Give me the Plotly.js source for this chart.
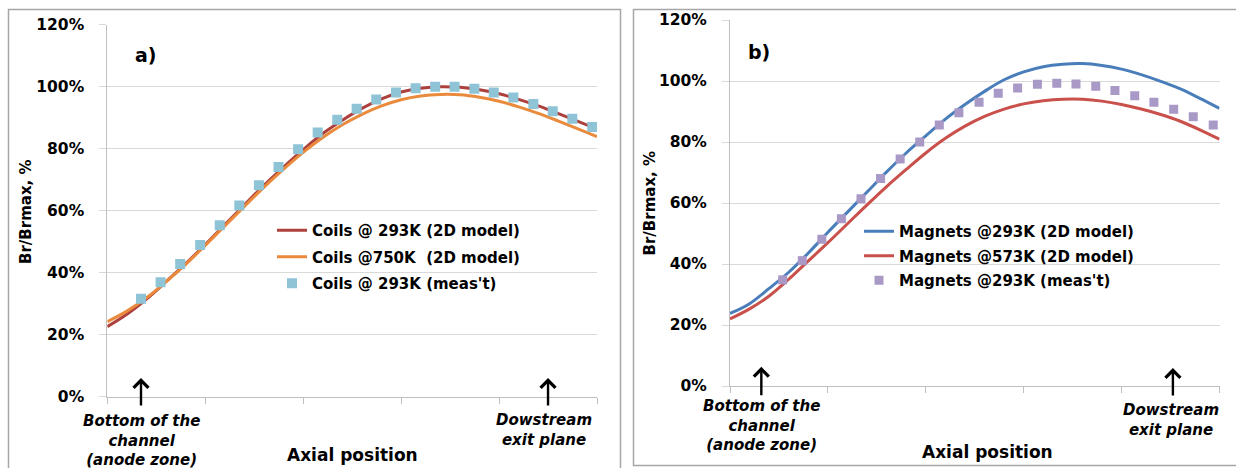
<!DOCTYPE html>
<html><head><meta charset="utf-8">
<script src="https://cdn.plot.ly/plotly-3.0.1.min.js"></script>
<style>html,body{margin:0;padding:0;background:#fff}#chart{width:1236px;height:468px}</style>
</head><body><div id="chart"></div>
<script>
// ---------- data (axial position in arbitrary units 0..25, values in %) ----------
const xModel = [0,1,2,3,4,5,6,7,8,9,10,11,12,13,14,15,16,17,18,19,20,21,22,23,24,25];

// panel a) coils
const coils293Model = [22.6,26.6,31.5,37.1,42.9,49.1,55.5,61.9,68.2,74.1,79.7,84.9,89.2,93.0,96.1,98.3,99.5,100.0,99.8,99.0,97.7,95.9,93.8,91.4,88.9,86.3];
const coils750Model = [24.2,27.6,31.9,37.1,42.7,48.8,55.1,61.4,67.6,73.4,78.8,83.6,87.7,91.1,93.8,95.8,97.0,97.5,97.4,96.6,95.3,93.5,91.4,89.0,86.5,83.9];
const xCoilsMeas = [1.72,2.72,3.72,4.74,5.74,6.74,7.74,8.74,9.74,10.74,11.74,12.73,13.73,14.74,15.74,16.74,17.73,18.74,19.73,20.73,21.75,22.74,23.74,24.76];
const coilsMeas = [31.6,36.9,42.8,48.9,55.3,61.7,68.2,74.1,79.8,85.2,89.3,92.9,95.9,98.1,99.5,100.0,100.0,99.3,98.1,96.5,94.4,92.1,89.7,87.0];

// panel b) magnets
const magnets293Model = [23.8,27.0,32.0,37.3,43.6,50.4,57.0,63.6,70.2,76.4,82.0,87.5,92.3,96.6,100.4,103.0,104.7,105.5,105.7,105.1,103.9,102.1,99.9,97.4,94.3,91.0];
const magnets573Model = [22.0,25.3,29.5,35.0,41.0,47.0,53.2,59.4,65.4,71.0,76.4,81.2,85.2,88.4,90.8,92.5,93.5,94.0,94.0,93.4,92.3,90.8,89.0,86.8,84.0,80.9];
const xMagnetsMeas = [2.69,3.69,4.69,5.69,6.69,7.69,8.69,9.69,10.69,11.69,12.72,13.70,14.69,15.70,16.69,17.67,18.68,19.66,20.67,21.65,22.66,23.66,24.68];
const magnetsMeas = [34.8,41.1,48.1,54.8,61.4,68.0,74.4,80.0,85.6,89.6,93.0,96.0,97.7,98.9,99.3,99.0,98.3,96.9,95.2,93.0,90.7,88.3,85.6];

const yTicks = [0,20,40,60,80,100,120];

// ---------- layout helpers ----------
const W = 1236, H = 468;
const px = x => x / W;
const py = y => 1 - y / H;
const FONT = 'DejaVu Sans';
const bold = (size, extra) => Object.assign({family: FONT, size: size, color: '#000', weight: 'bold'}, extra || {});

const traces = [
  {x: xModel, y: coils293Model, type: 'scatter', mode: 'lines', name: 'Coils @ 293K (2D model)',
   line: {color: '#ad403c', width: 3, shape: 'spline'}, xaxis: 'x', yaxis: 'y', legend: 'legend', legendgroup: 'a1'},
  {x: xModel, y: coils750Model, type: 'scatter', mode: 'lines', name: 'Coils @750K  (2D model)',
   line: {color: '#ea8a3c', width: 3, shape: 'spline'}, xaxis: 'x', yaxis: 'y', legend: 'legend', legendgroup: 'a2'},
  {x: xCoilsMeas, y: coilsMeas, type: 'scatter', mode: 'markers', name: "Coils @ 293K (meas't)",
   marker: {symbol: 'square', color: '#8fc3d6', size: 10}, xaxis: 'x', yaxis: 'y', legend: 'legend', legendgroup: 'a3'},
  {x: xModel, y: magnets293Model, type: 'scatter', mode: 'lines', name: 'Magnets @293K (2D model)',
   line: {color: '#4a7ebb', width: 3, shape: 'spline'}, xaxis: 'x2', yaxis: 'y2', legend: 'legend2', legendgroup: 'b1'},
  {x: xModel, y: magnets573Model, type: 'scatter', mode: 'lines', name: 'Magnets @573K (2D model)',
   line: {color: '#c9504b', width: 3, shape: 'spline'}, xaxis: 'x2', yaxis: 'y2', legend: 'legend2', legendgroup: 'b2'},
  {x: xMagnetsMeas, y: magnetsMeas, type: 'scatter', mode: 'markers', name: "Magnets @293K (meas't)",
   marker: {symbol: 'square', color: '#a899c7', size: 9}, xaxis: 'x2', yaxis: 'y2', legend: 'legend2', legendgroup: 'b3'}
];

const xAxisBase = (dom, anchor) => ({
  domain: dom, anchor: anchor, range: [0, 25], tick0: 0, dtick: 5,
  showticklabels: false, ticks: 'outside', ticklen: 6, tickcolor: '#bfbfbf', tickwidth: 1,
  showline: true, linecolor: '#bfbfbf', linewidth: 1, showgrid: false, zeroline: false, fixedrange: true
});
const yAxisBase = (dom, anchor) => ({
  domain: dom, anchor: anchor, range: [0, 120], tickmode: 'array', tickvals: yTicks,
  ticktext: yTicks.map(v => v + '%'),
  showgrid: true, gridcolor: '#d9d9d9', gridwidth: 1,
  showline: true, linecolor: '#bfbfbf', linewidth: 1,
  ticks: 'outside', ticklen: 7, tickcolor: '#d9d9d9', tickwidth: 1,
  zeroline: false, tickfont: bold(15.5), ticklabelstandoff: 12, fixedrange: true
});

const legendBase = (x, y, gap) => ({
  x: x, y: y, xanchor: 'left', yanchor: 'top', bgcolor: 'rgba(0,0,0,0)', borderwidth: 0,
  font: bold(15), traceorder: 'grouped', tracegroupgap: gap, itemclick: false, itemdoubleclick: false
});

const ann = [];
const txt = (text, x, y, font, extra) => ann.push(Object.assign({
  text: text, x: px(x), y: py(y), xref: 'paper', yref: 'paper', xanchor: 'center', yanchor: 'middle',
  showarrow: false, font: font
}, extra || {}));
const arrow = (xr, yr, x, y, len) => ann.push({
  text: '', xref: xr, yref: yr, x: x, y: y, ax: 0, ay: len, showarrow: true,
  arrowhead: 4, arrowsize: 1.2, arrowwidth: 2.4, arrowcolor: '#000'
});

// panel labels
txt('a)', 146, 55, bold(19));
txt('b)', 759, 52, bold(19));
// y-axis titles
txt('Br/Brmax, %', 26, 212, bold(15), {textangle: -90});
txt('Br/Brmax, %', 649.5, 203, bold(15), {textangle: -90});
// x-axis titles
txt('Axial position', 352, 455, bold(17));
txt('Axial position', 987, 452, bold(17));
// position notes
const it = bold(15, {style: 'italic'});
txt('Bottom of the<br>channel<br>(anode zone)', 141.5, 440, it);
txt('Dowstream<br>exit plane', 543.5, 430, it);
txt('Bottom of the<br>channel<br>(anode zone)', 761, 425, it);
txt('Dowstream<br>exit plane', 1170.5, 419.5, it);
// arrows
arrow('x', 'y', 1.72, 6.0, 29);
arrow('x', 'y', 22.5, 6.0, 29);
arrow('x2', 'y2', 1.60, 6.3, 30);
arrow('x2', 'y2', 22.62, 5.9, 29);

const layout = {
  width: W, height: H, autosize: false,
  margin: {l: 0, r: 0, t: 0, b: 0, pad: 0},
  paper_bgcolor: '#fff', plot_bgcolor: 'rgba(0,0,0,0)',
  font: {family: FONT, color: '#000'},
  showlegend: true,
  xaxis: xAxisBase([px(107.3), px(597)], 'y'),
  yaxis: yAxisBase([py(396.7), py(24.7)], 'x'),
  xaxis2: xAxisBase([px(730), px(1219.5)], 'y2'),
  yaxis2: yAxisBase([py(386), py(20)], 'x2'),
  legend: legendBase(px(272), py(214), 4),
  legend2: legendBase(px(859), py(215), 2),
  annotations: ann,
  shapes: [
    {type: 'rect', xref: 'paper', yref: 'paper', x0: px(8.5), x1: px(620.5), y0: py(472), y1: py(9.5),
     line: {color: '#a6a6a6', width: 1.5}, fillcolor: 'rgba(0,0,0,0)', layer: 'below'},
    {type: 'rect', xref: 'paper', yref: 'paper', x0: px(633.5), x1: px(1242), y0: py(465.5), y1: py(9.5),
     line: {color: '#a6a6a6', width: 1.5}, fillcolor: 'rgba(0,0,0,0)', layer: 'below'}
  ]
};

Plotly.newPlot('chart', traces, layout, {displayModeBar: false, staticPlot: true});
</script></body></html>
